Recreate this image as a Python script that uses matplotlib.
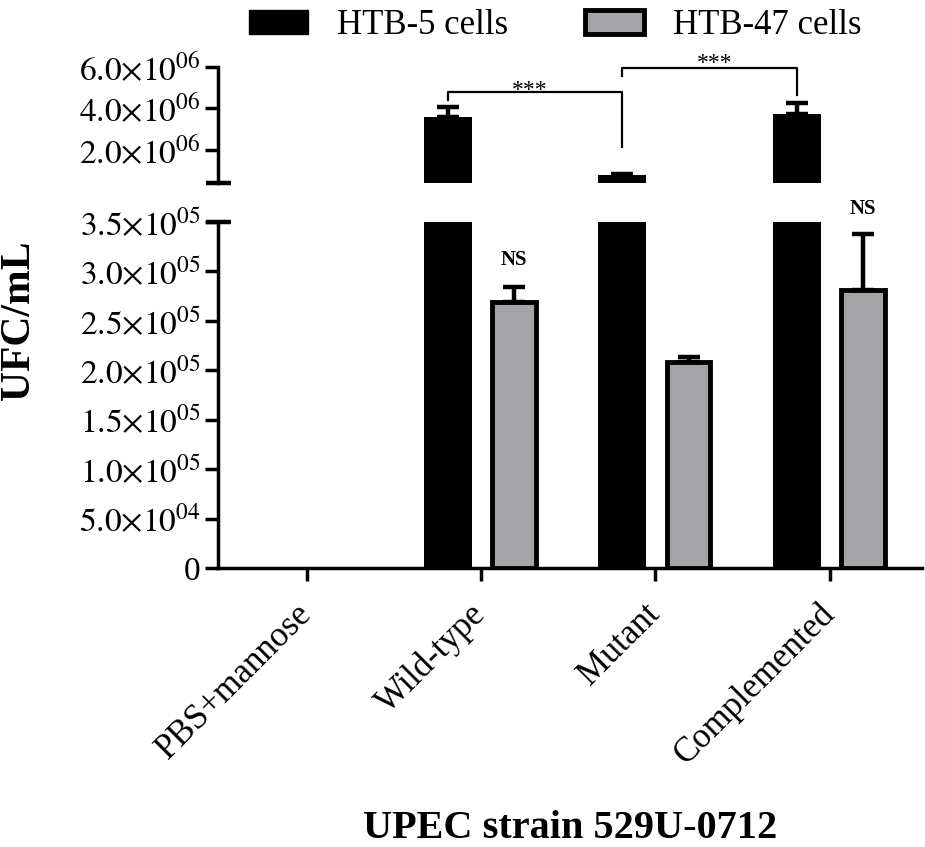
import numpy as np
import matplotlib
matplotlib.use("Agg")
import matplotlib.pyplot as plt
from matplotlib.patches import Patch

plt.rcParams['font.family'] = ['Liberation Serif', 'DejaVu Serif']
plt.rcParams['mathtext.fontset'] = 'stix'

# data
strains = ['PBS+mannose', 'Wild-type', 'Mutant', 'Complemented']
series = ['HTB-5 cells', 'HTB-47 cells']
htb5 = np.array([0, 3.57e6, 0.79e6, 3.74e6])
htb5_err = np.array([0, 0.51e6, 0.08e6, 0.53e6])
htb47 = np.array([0, 2.69e5, 2.08e5, 2.81e5])
htb47_err = np.array([0, 0.15e5, 0.05e5, 0.57e5])

top_ticks = [2e6, 4e6, 6e6]
top_labels = [r'$2.0{\times}10^{06}$', r'$4.0{\times}10^{06}$', r'$6.0{\times}10^{06}$']
bot_ticks = [0, 5e4, 1e5, 1.5e5, 2e5, 2.5e5, 3e5, 3.5e5]
bot_labels = ['0', r'$5.0{\times}10^{04}$', r'$1.0{\times}10^{05}$', r'$1.5{\times}10^{05}$',
              r'$2.0{\times}10^{05}$', r'$2.5{\times}10^{05}$', r'$3.0{\times}10^{05}$',
              r'$3.5{\times}10^{05}$']

GRAY = '#a3a3a8'
LW = 2.5

fig = plt.figure(figsize=(9.25, 8.47), dpi=100)
ax_top = fig.add_axes([0.2357, 0.7836, 0.7611, 0.1377])
ax_bot = fig.add_axes([0.2357, 0.3294, 0.7611, 0.4085])

x = np.arange(len(strains))
off = 0.19
# PBS+mannose gave no counts: nothing is drawn there
k5 = htb5 > 0
k47 = htb47 > 0


def draw_black(ax):
    ax.bar(x[k5] - off, htb5[k5], width=0.276, color='black', linewidth=0, zorder=2)
    ax.errorbar(x[k5] - off, htb5[k5], yerr=[np.zeros(k5.sum()), htb5_err[k5]], fmt='none',
                ecolor='black', elinewidth=3.2, capsize=8, capthick=3.2, zorder=1)


def draw_gray(ax):
    ax.bar(x[k47] + off, htb47[k47], width=0.25, color=GRAY, edgecolor='black',
           linewidth=3.5, zorder=2)
    ax.errorbar(x[k47] + off, htb47[k47], yerr=[np.zeros(k47.sum()), htb47_err[k47]],
                fmt='none', ecolor='black', elinewidth=3.2, capsize=8, capthick=3.2, zorder=1)


draw_black(ax_top)
draw_black(ax_bot)
draw_gray(ax_bot)  # all HTB-47 values sit below the break

for ax in (ax_top, ax_bot):
    ax.set_xlim(-0.51, 3.53)
    for s in ('top', 'right'):
        ax.spines[s].set_visible(False)
    ax.spines['left'].set_linewidth(LW)
    ax.spines['bottom'].set_linewidth(LW)
    ax.tick_params(width=LW, length=9.5, labelsize=24, pad=3)

ax_top.set_ylim(4e5, 6e6)
ax_top.spines['bottom'].set_visible(False)
ax_top.set_xticks([])
ax_top.set_yticks(top_ticks)
ax_top.set_yticklabels(top_labels)

ax_bot.set_ylim(0, 3.5e5)
ax_bot.set_yticks(bot_ticks)
ax_bot.set_yticklabels(bot_labels)
ax_bot.set_xticks(x)
ax_bot.set_xticklabels(strains, rotation=45, ha='right', va='center',
                       rotation_mode='anchor', fontsize=25)
ax_bot.tick_params(axis='x', pad=20)

# break marks
ax_top.plot([-0.017, 0.019], [0, 0], transform=ax_top.transAxes, color='black',
            lw=3.2, clip_on=False, solid_capstyle='butt')
ax_bot.plot([-0.017, 0.019], [1, 1], transform=ax_bot.transAxes, color='black',
            lw=3.2, clip_on=False, solid_capstyle='butt')

# significance brackets
bx1 = [x[1] - off, x[1] - off, x[2] - off, x[2] - off]
ax_top.plot(bx1, [4.4e6, 4.8e6, 4.8e6, 2.15e6], color='black', lw=1.6, clip_on=False)
ax_top.text((x[1] + x[2]) / 2 - off - 0.03, 4.85e6, '***', ha='center', va='center', fontsize=17)
bx2 = [x[2] - off, x[2] - off, x[3] - off, x[3] - off]
ax_top.plot(bx2, [5.55e6, 5.92e6, 5.92e6, 4.64e6], color='black', lw=1.6, clip_on=False)
ax_top.text((x[2] + x[3]) / 2 - off + 0.03, 6.15e6, '***', ha='center', va='center', fontsize=17)

ax_bot.text(x[1] + off, 3.12e5, 'NS', ha='center', va='center', fontsize=15,
            fontweight='bold', clip_on=False)
ax_bot.text(x[3] + off, 3.63e5, 'NS', ha='center', va='center', fontsize=15,
            fontweight='bold', clip_on=False)

ax_bot.set_xlabel('UPEC strain 529U-0712', fontsize=29, fontweight='bold', labelpad=28)
fig.text(0.021, 0.622, 'UFC/mL', rotation=90, ha='center', va='center',
         fontsize=30, fontweight='bold')

handles = [Patch(facecolor='black', edgecolor='black'),
           Patch(facecolor=GRAY, edgecolor='black', linewidth=3.5)]
fig.legend(handles, series, loc='upper center', bbox_to_anchor=(0.6, 1.018), ncol=2,
           frameon=False, fontsize=25, handlelength=1.7, handleheight=0.7,
           handletextpad=0.84, columnspacing=2.2, borderpad=0.2)

fig.savefig('out.png', dpi=100)
